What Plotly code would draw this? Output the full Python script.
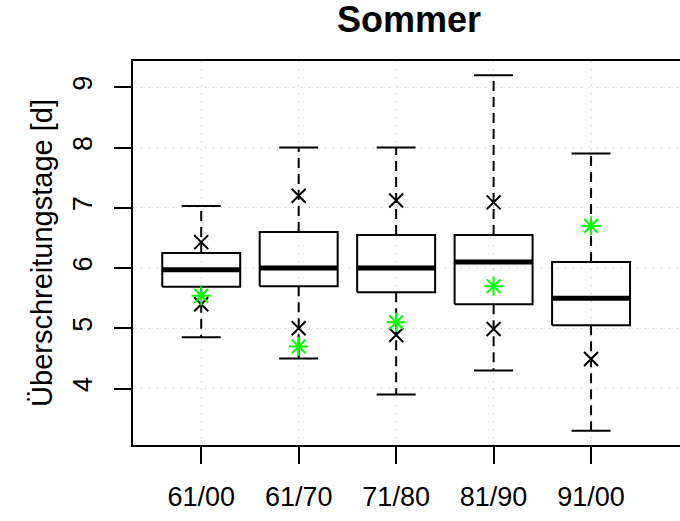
import plotly.graph_objects as go

categories = ["61/00", "61/70", "71/80", "81/90", "91/00"]
whisk_lo = [4.85, 4.50, 3.90, 4.30, 3.30]
q1 = [5.69, 5.70, 5.60, 5.40, 5.05]
median = [5.97, 6.00, 6.00, 6.10, 5.50]
q3 = [6.25, 6.60, 6.55, 6.55, 6.10]
whisk_hi = [7.03, 8.00, 8.00, 9.20, 7.90]
cross_hi = [6.43, 7.20, 7.12, 7.09, None]
cross_lo = [5.40, 5.00, 4.89, 4.99, 4.49]
green_star = [5.54, 4.70, 5.10, 5.70, 6.70]
y_ticks = [4, 5, 6, 7, 8, 9]

pos = list(range(1, len(categories) + 1))
BW = 0.4   # half box width
CW = 0.2   # half cap width

box_x, box_y = [], []
med_x, med_y = [], []
wh_x, wh_y = [], []
cap_x, cap_y = [], []
for i, p in enumerate(pos):
    box_x += [p - BW, p + BW, p + BW, p - BW, p - BW, None]
    box_y += [q1[i], q1[i], q3[i], q3[i], q1[i], None]
    med_x += [p - BW, p + BW, None]
    med_y += [median[i], median[i], None]
    wh_x += [p, p, None, p, p, None]
    wh_y += [q3[i], whisk_hi[i], None, q1[i], whisk_lo[i], None]
    cap_x += [p - CW, p + CW, None, p - CW, p + CW, None]
    cap_y += [whisk_hi[i], whisk_hi[i], None, whisk_lo[i], whisk_lo[i], None]

fig = go.Figure()
fig.add_trace(go.Scatter(x=wh_x, y=wh_y, mode="lines",
                         line=dict(color="black", width=2, dash="10px,6px"),
                         hoverinfo="skip"))
fig.add_trace(go.Scatter(x=cap_x, y=cap_y, mode="lines",
                         line=dict(color="black", width=2), hoverinfo="skip"))
fig.add_trace(go.Scatter(x=box_x, y=box_y, mode="lines",
                         line=dict(color="black", width=2), hoverinfo="skip"))
fig.add_trace(go.Scatter(x=med_x, y=med_y, mode="lines",
                         line=dict(color="black", width=5), hoverinfo="skip"))

cx = [p for p, v in zip(pos, cross_hi) if v is not None] + pos
cy = [v for v in cross_hi if v is not None] + cross_lo
fig.add_trace(go.Scatter(x=cx, y=cy, mode="markers",
                         marker=dict(symbol="x-thin-open", size=14, color="black",
                                     line=dict(color="black", width=2))))
fig.add_trace(go.Scatter(x=pos, y=green_star, mode="markers",
                         marker=dict(symbol="asterisk-open", size=16, color="#00FF00",
                                     line=dict(color="#00FF00", width=2))))

font = "Liberation Sans, Arial, sans-serif"
W = 720  # wider than the window: the frame's right side lies outside the view
L, T, B = 133, 61, 76
fig.update_layout(
    width=W, height=521,
    margin=dict(l=L, r=0, t=T, b=B),
    paper_bgcolor="white", plot_bgcolor="white",
    showlegend=False,
    font=dict(family=font, color="black"),
    title=dict(text="<b>Sommer</b>", font=dict(size=36, family=font, color="black"),
               x=409 / W, xanchor="center", y=1 - 19.5 / 521, yanchor="middle",
               xref="container", yref="container"),
)
fig.update_xaxes(
    range=[0.3, 0.3 + (W - 132.75) / 97.5],
    tickvals=pos, ticktext=categories, automargin=False,
    showline=True, linecolor="black", linewidth=2, mirror=True,
    ticks="outside", ticklen=17, tickwidth=1.5, tickcolor="black",
    tickfont=dict(size=27, family=font), ticklabelstandoff=10,
    showgrid=True, gridcolor="#c8c8c8", gridwidth=1.2, griddash="1px,7px",
    zeroline=False,
)
fig.update_yaxes(
    range=[3.064, 9.436],
    tickvals=y_ticks, automargin=False,
    showline=True, linecolor="black", linewidth=2, mirror=False,
    ticks="outside", ticklen=17, tickwidth=1.5, tickcolor="black",
    tickangle=-90, tickfont=dict(size=27, family=font), ticklabelstandoff=11,
    showgrid=True, gridcolor="#c8c8c8", gridwidth=1.2, griddash="1px,7px",
    zeroline=False,
    title=dict(text="Überschreitungstage [d]", font=dict(size=29, family=font),
               standoff=7),
)
fig.write_html(
    "out.html",
    config={"displayModeBar": False},
    post_script="document.body.style.margin='0';document.body.style.overflow='hidden';",
)
